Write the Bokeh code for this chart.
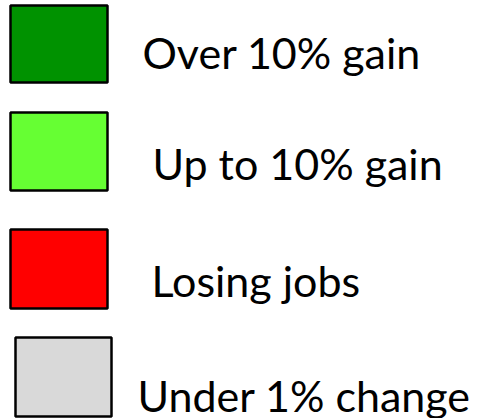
from bokeh.plotting import figure
from bokeh.models import Range1d, ColumnDataSource
from bokeh.core.properties import value
from bokeh.embed import file_html
from bokeh.resources import INLINE

# Legend data
labels = ["Over 10% gain", "Up to 10% gain", "Losing jobs", "Under 1% change"]
colors = ["#009200", "#66FF33", "#FF0000", "#D9D9D9"]

# Layout (screen-like pixel coordinates)
box_left = [10, 10, 10, 15]
box_width = [97, 97, 97, 96]
box_top = [5, 112, 229, 337]
box_height = [77, 78, 79, 79]
text_x = [142, 152, 151, 137]
text_base = [52, 163, 280, 395]

W, H = 482, 418
p = figure(width=W, height=H, output_backend="svg", toolbar_location=None,
           x_range=Range1d(0, W), y_range=Range1d(H, 0),
           min_border=0, outline_line_color=None)
p.axis.visible = False
p.grid.visible = False
p.background_fill_color = "white"
p.border_fill_color = "white"

src = ColumnDataSource(dict(
    left=box_left,
    right=[l + w for l, w in zip(box_left, box_width)],
    top=box_top,
    bottom=[t + h for t, h in zip(box_top, box_height)],
    color=colors,
    tx=text_x, ty=text_base, label=labels,
))
p.quad(left="left", right="right", top="top", bottom="bottom", source=src,
       fill_color="color", line_color="black", line_width=2.5)
p.text(x="tx", y="ty", text="label", source=src, text_font=value("Lato"),
       text_font_size="43px", text_baseline="alphabetic", text_align="left",
       text_color="black")

open("out.html", "w").write(file_html(p, INLINE))
